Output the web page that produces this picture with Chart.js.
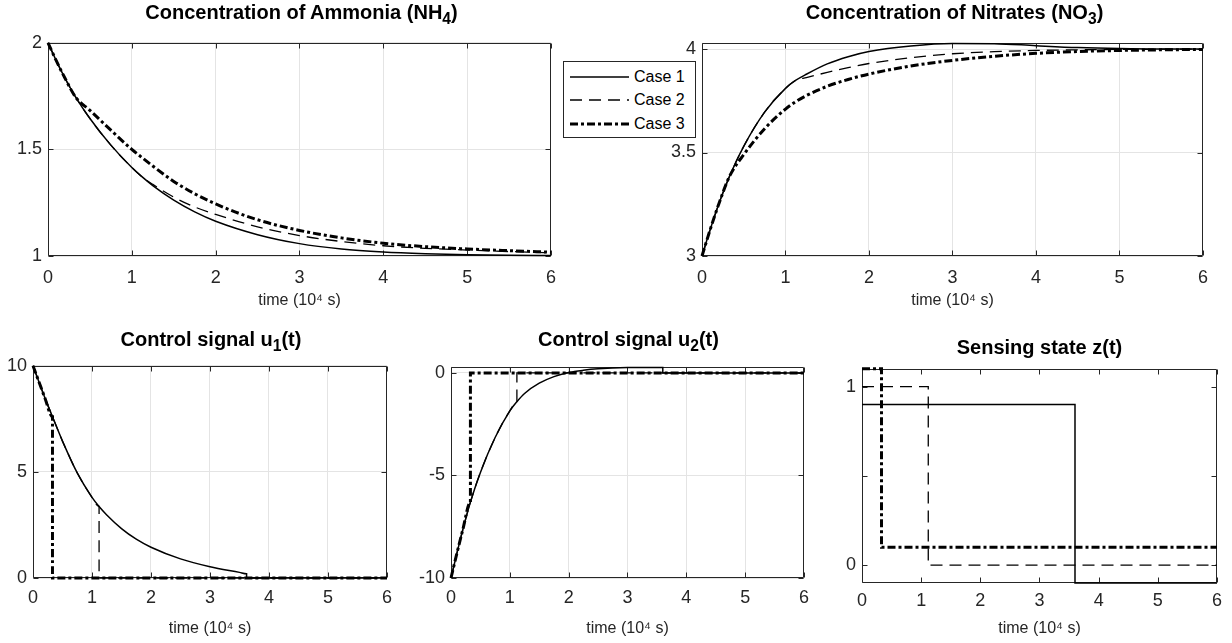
<!DOCTYPE html>
<html>
<head>
<meta charset="utf-8">
<script src="https://cdn.jsdelivr.net/npm/chart.js@4.4.1/dist/chart.umd.min.js"></script>
<style>
  body { margin: 0; width: 1232px; height: 643px; background: #fff; position: relative; overflow: hidden;
         font-family: "Liberation Sans", Arial, Helvetica, sans-serif; }
  canvas { position: absolute; }
  .ttl { position: absolute; text-align: center; font-weight: bold; font-size: 20px; line-height: 24px; color: #000; white-space: nowrap; z-index: 2; }
  .ttl sub { font-size: 0.78em; vertical-align: -0.35em; line-height: 0; }
  #legend { position: absolute; left: 563px; top: 61px; width: 131px; height: 75px; border: 1px solid #262626; background: #fff; z-index: 3; }
  #legend span { position: absolute; left: 70px; font-size: 16px; line-height: 20px; color: #000; }
</style>
</head>
<body>
<div class="ttl" style="left:48px;width:507px;top:0px">Concentration of Ammonia (NH<sub>4</sub>)</div>
<div class="ttl" style="left:702px;width:505px;top:0px">Concentration of Nitrates (NO<sub>3</sub>)</div>
<div class="ttl" style="left:33px;width:356px;top:327px">Control signal u<sub>1</sub>(t)</div>
<div class="ttl" style="left:451px;width:355px;top:327px">Control signal u<sub>2</sub>(t)</div>
<div class="ttl" style="left:862px;width:355px;top:335px">Sensing state z(t)</div>

<div id="legend">
  <svg width="131" height="75" style="position:absolute;left:0;top:0">
    <line x1="6" y1="15" x2="65" y2="15" stroke="#000" stroke-width="1.5"/>
    <line x1="6" y1="38" x2="65" y2="38" stroke="#000" stroke-width="1.3" stroke-dasharray="12 7"/>
    <line x1="6" y1="62" x2="65" y2="62" stroke="#000" stroke-width="3" stroke-dasharray="8 3 3 3"/>
  </svg>
  <span style="top:5px">Case 1</span>
  <span style="top:28px">Case 2</span>
  <span style="top:52px">Case 3</span>
</div>

<canvas id="c1"></canvas>
<canvas id="c2"></canvas>
<canvas id="c3"></canvas>
<canvas id="c4"></canvas>
<canvas id="c5"></canvas>

<script>
// time axis, units of 10^4 s
const xTicks = [0, 1, 2, 3, 4, 5, 6];
const tSmooth = [0, 0.1, 0.2, 0.33, 0.5, 0.75, 1, 1.12, 1.25, 1.5, 1.75, 2, 2.5, 3, 3.5, 4, 4.5, 5, 5.5, 6];

// ammonia NH4
const nh4Ticks = [1, 1.5, 2];
const nh4Case1 = [2, 1.915, 1.836, 1.745, 1.645, 1.52, 1.415, 1.372, 1.33, 1.262, 1.207, 1.163, 1.1, 1.058, 1.033, 1.019, 1.011, 1.006, 1.003, 1.002];
const nh4Case2 = [2, 1.915, 1.836, 1.745, 1.645, 1.52, 1.415, 1.372, 1.336, 1.276, 1.23, 1.195, 1.137, 1.096, 1.068, 1.048, 1.036, 1.028, 1.021, 1.015];
const nh4Case3 = [2, 1.915, 1.836, 1.745, 1.683, 1.59, 1.5, 1.462, 1.422, 1.35, 1.292, 1.244, 1.17, 1.12, 1.085, 1.06, 1.044, 1.033, 1.025, 1.018];

// nitrates NO3
const no3Ticks = [3, 3.5, 4];
const no3Case1 = [3, 3.13, 3.25, 3.385, 3.53, 3.695, 3.81, 3.848, 3.878, 3.928, 3.963, 3.988, 4.015, 4.027, 4.026, 4.016, 4.007, 4.002, 4.0, 4.0];
const no3Case2 = [3, 3.13, 3.25, 3.385, 3.53, 3.695, 3.81, 3.848, 3.862, 3.887, 3.91, 3.93, 3.958, 3.977, 3.987, 3.993, 3.996, 3.998, 3.999, 4.0];
const no3Case3 = [3, 3.13, 3.25, 3.385, 3.49, 3.615, 3.71, 3.745, 3.775, 3.82, 3.853, 3.879, 3.918, 3.945, 3.965, 3.979, 3.988, 3.993, 3.996, 3.998];

// control signal u1
const u1Ticks = [0, 5, 10];
const u1Case1T = [0, 0.1, 0.2, 0.33, 0.5, 0.75, 1, 1.12, 1.25, 1.5, 1.75, 2, 2.5, 3, 3.5, 3.62, 3.62, 6];
const u1Case1 = [10, 9.25, 8.5, 7.6, 6.45, 4.95, 3.8, 3.37, 2.97, 2.33, 1.83, 1.45, 0.9, 0.53, 0.265, 0.2, 0, 0];
const u1Case2T = [0, 0.1, 0.2, 0.33, 0.5, 0.75, 1, 1.12, 1.12, 6];
const u1Case2 = [10, 9.25, 8.5, 7.6, 6.45, 4.95, 3.8, 3.37, 0, 0];
const u1Case3T = [0, 0.1, 0.2, 0.33, 0.33, 6];
const u1Case3 = [10, 9.25, 8.5, 7.6, 0, 0];

// control signal u2
const u2Ticks = [-10, -5, 0];
const u2Case1T = [0, 0.1, 0.2, 0.33, 0.5, 0.75, 1, 1.12, 1.25, 1.5, 1.75, 2, 2.25, 2.5, 3, 3.6, 3.6, 6];
const u2Case1 = [-10, -8.8, -7.65, -6.3, -4.85, -3.15, -1.85, -1.4, -1.0, -0.5, -0.18, 0.02, 0.13, 0.2, 0.26, 0.27, 0, 0];
const u2Case2T = [0, 0.1, 0.2, 0.33, 0.5, 0.75, 1, 1.12, 1.12, 6];
const u2Case2 = [-10, -8.8, -7.65, -6.3, -4.85, -3.15, -1.85, -1.4, 0, 0];
const u2Case3T = [0, 0.1, 0.2, 0.33, 0.33, 6];
const u2Case3 = [-10, -8.8, -7.65, -6.3, 0, 0];

// sensing state z (cases offset by 0.1 for visibility)
const zTicks = [0, 0.5, 1];
const zCase1T = [0, 3.6, 3.6, 6];
const zCase1 = [0.9, 0.9, -0.1, -0.1];
const zCase2T = [0, 1.12, 1.12, 6];
const zCase2 = [1, 1, 0, 0];
const zCase3T = [0, 0.33, 0.33, 6];
const zCase3 = [1.1, 1.1, 0.1, 0.1];

const caseStyles = [
  { label: 'Case 1', width: 1.5, dash: [], order: 2 },
  { label: 'Case 2', width: 1.3, dash: [12, 7], order: 1 },
  { label: 'Case 3', width: 3, dash: [8, 3, 3, 3], order: 0 }
];

Chart.defaults.font.family = '"Liberation Sans", Arial, Helvetica, sans-serif';

const pts = (t, v) => t.map((x, i) => ({ x, y: v[i] }));
const fmt = v => String(+Number(v).toFixed(2));

// box + inward tick marks, matlab style
const boxPlugin = {
  id: 'matlabBox',
  beforeDatasetsDraw(chart) {
    const { ctx, chartArea: a, scales: { x, y } } = chart;
    const L = Math.round(a.left) + 0.5, R = Math.round(a.right) - 0.5;
    const T = Math.round(a.top) + 0.5, B = Math.round(a.bottom) - 0.5;
    ctx.save();
    ctx.strokeStyle = '#262626';
    ctx.lineWidth = 1;
    ctx.beginPath();
    x.ticks.forEach(t => {
      const p = Math.round(x.getPixelForValue(t.value)) + 0.5;
      ctx.moveTo(p, B); ctx.lineTo(p, B - 5);
      ctx.moveTo(p, T); ctx.lineTo(p, T + 5);
    });
    y.ticks.forEach(t => {
      const p = Math.round(y.getPixelForValue(t.value)) + 0.5;
      ctx.moveTo(L, p); ctx.lineTo(L + 5, p);
      ctx.moveTo(R, p); ctx.lineTo(R - 5, p);
    });
    ctx.rect(L, T, R - L, B - T);
    ctx.stroke();
    ctx.restore();
  }
};

function makePanel(id, box, y, series, opts) {
  const { L, T, R, B, yw, xh, xpad } = box;
  const pt = 14, pr = 12;
  const cv = document.getElementById(id);
  const w = R - L + yw + pr, h = B - T + pt + xh;
  cv.width = w; cv.height = h;
  cv.style.left = (L - yw) + 'px';
  cv.style.top = (T - pt) + 'px';
  cv.style.width = w + 'px';
  cv.style.height = h + 'px';

  const gridOn = opts.grid;
  new Chart(cv, {
    type: 'line',
    data: {
      datasets: series.map((s, i) => ({
        label: caseStyles[i].label,
        data: pts(s[0], s[1]),
        borderColor: '#000',
        borderWidth: caseStyles[i].width,
        borderDash: caseStyles[i].dash,
        order: caseStyles[i].order,
        pointRadius: 0,
        fill: false,
        clip: 4,
        cubicInterpolationMode: opts.smooth ? 'monotone' : 'default',
        tension: 0
      }))
    },
    options: {
      responsive: false,
      animation: false,
      events: [],
      layout: { padding: { top: pt, right: pr, left: 0, bottom: 0 } },
      plugins: { legend: { display: false }, tooltip: { enabled: false } },
      scales: {
        x: {
          type: 'linear', min: 0, max: 6,
          afterBuildTicks: s => { s.ticks = xTicks.map(v => ({ value: v })); },
          afterFit: s => { s.height = xh; },
          grid: { display: gridOn, color: '#e4e4e4', drawTicks: false },
          border: { display: false },
          ticks: { padding: xpad, color: '#262626', font: { size: 18 }, maxRotation: 0, callback: fmt },
          title: { display: true, text: 'time (10\u2074 s)', color: '#262626', font: { size: 16 }, padding: 0 }
        },
        y: {
          type: 'linear', min: y.min, max: y.max,
          afterBuildTicks: s => { s.ticks = y.ticks.map(v => ({ value: v })); },
          afterFit: s => { s.width = yw; },
          grid: { display: gridOn, color: '#e4e4e4', drawTicks: false },
          border: { display: false },
          ticks: { padding: 6, color: '#262626', font: { size: 18 },
                   callback: v => (y.hide && y.hide.includes(v)) ? '' : fmt(v) }
        }
      }
    },
    plugins: [boxPlugin]
  });
}

makePanel('c1', { L: 48, T: 40, R: 555, B: 256, yw: 48, xh: 54, xpad: 11 },
  { min: 1, max: 2, ticks: nh4Ticks },
  [[tSmooth, nh4Case1], [tSmooth, nh4Case2], [tSmooth, nh4Case3]],
  { grid: true, smooth: true });

makePanel('c2', { L: 702, T: 40, R: 1207, B: 256, yw: 48, xh: 54, xpad: 11 },
  { min: 3, max: 4.03, ticks: no3Ticks },
  [[tSmooth, no3Case1], [tSmooth, no3Case2], [tSmooth, no3Case3]],
  { grid: true, smooth: true });

makePanel('c3', { L: 33, T: 363, R: 389, B: 578, yw: 33, xh: 60, xpad: 9 },
  { min: 0, max: 10, ticks: u1Ticks },
  [[u1Case1T, u1Case1], [u1Case2T, u1Case2], [u1Case3T, u1Case3]],
  { grid: true, smooth: true });

makePanel('c4', { L: 451, T: 364, R: 806, B: 578, yw: 45, xh: 60, xpad: 9 },
  { min: -10, max: 0.3, ticks: u2Ticks },
  [[u2Case1T, u2Case1], [u2Case2T, u2Case2], [u2Case3T, u2Case3]],
  { grid: true, smooth: true });

makePanel('c5', { L: 862, T: 366, R: 1217, B: 583, yw: 40, xh: 55, xpad: 7 },
  { min: -0.1, max: 1.1, ticks: zTicks, hide: [0.5] },
  [[zCase1T, zCase1], [zCase2T, zCase2], [zCase3T, zCase3]],
  { grid: false, smooth: false });
</script>
</body>
</html>
